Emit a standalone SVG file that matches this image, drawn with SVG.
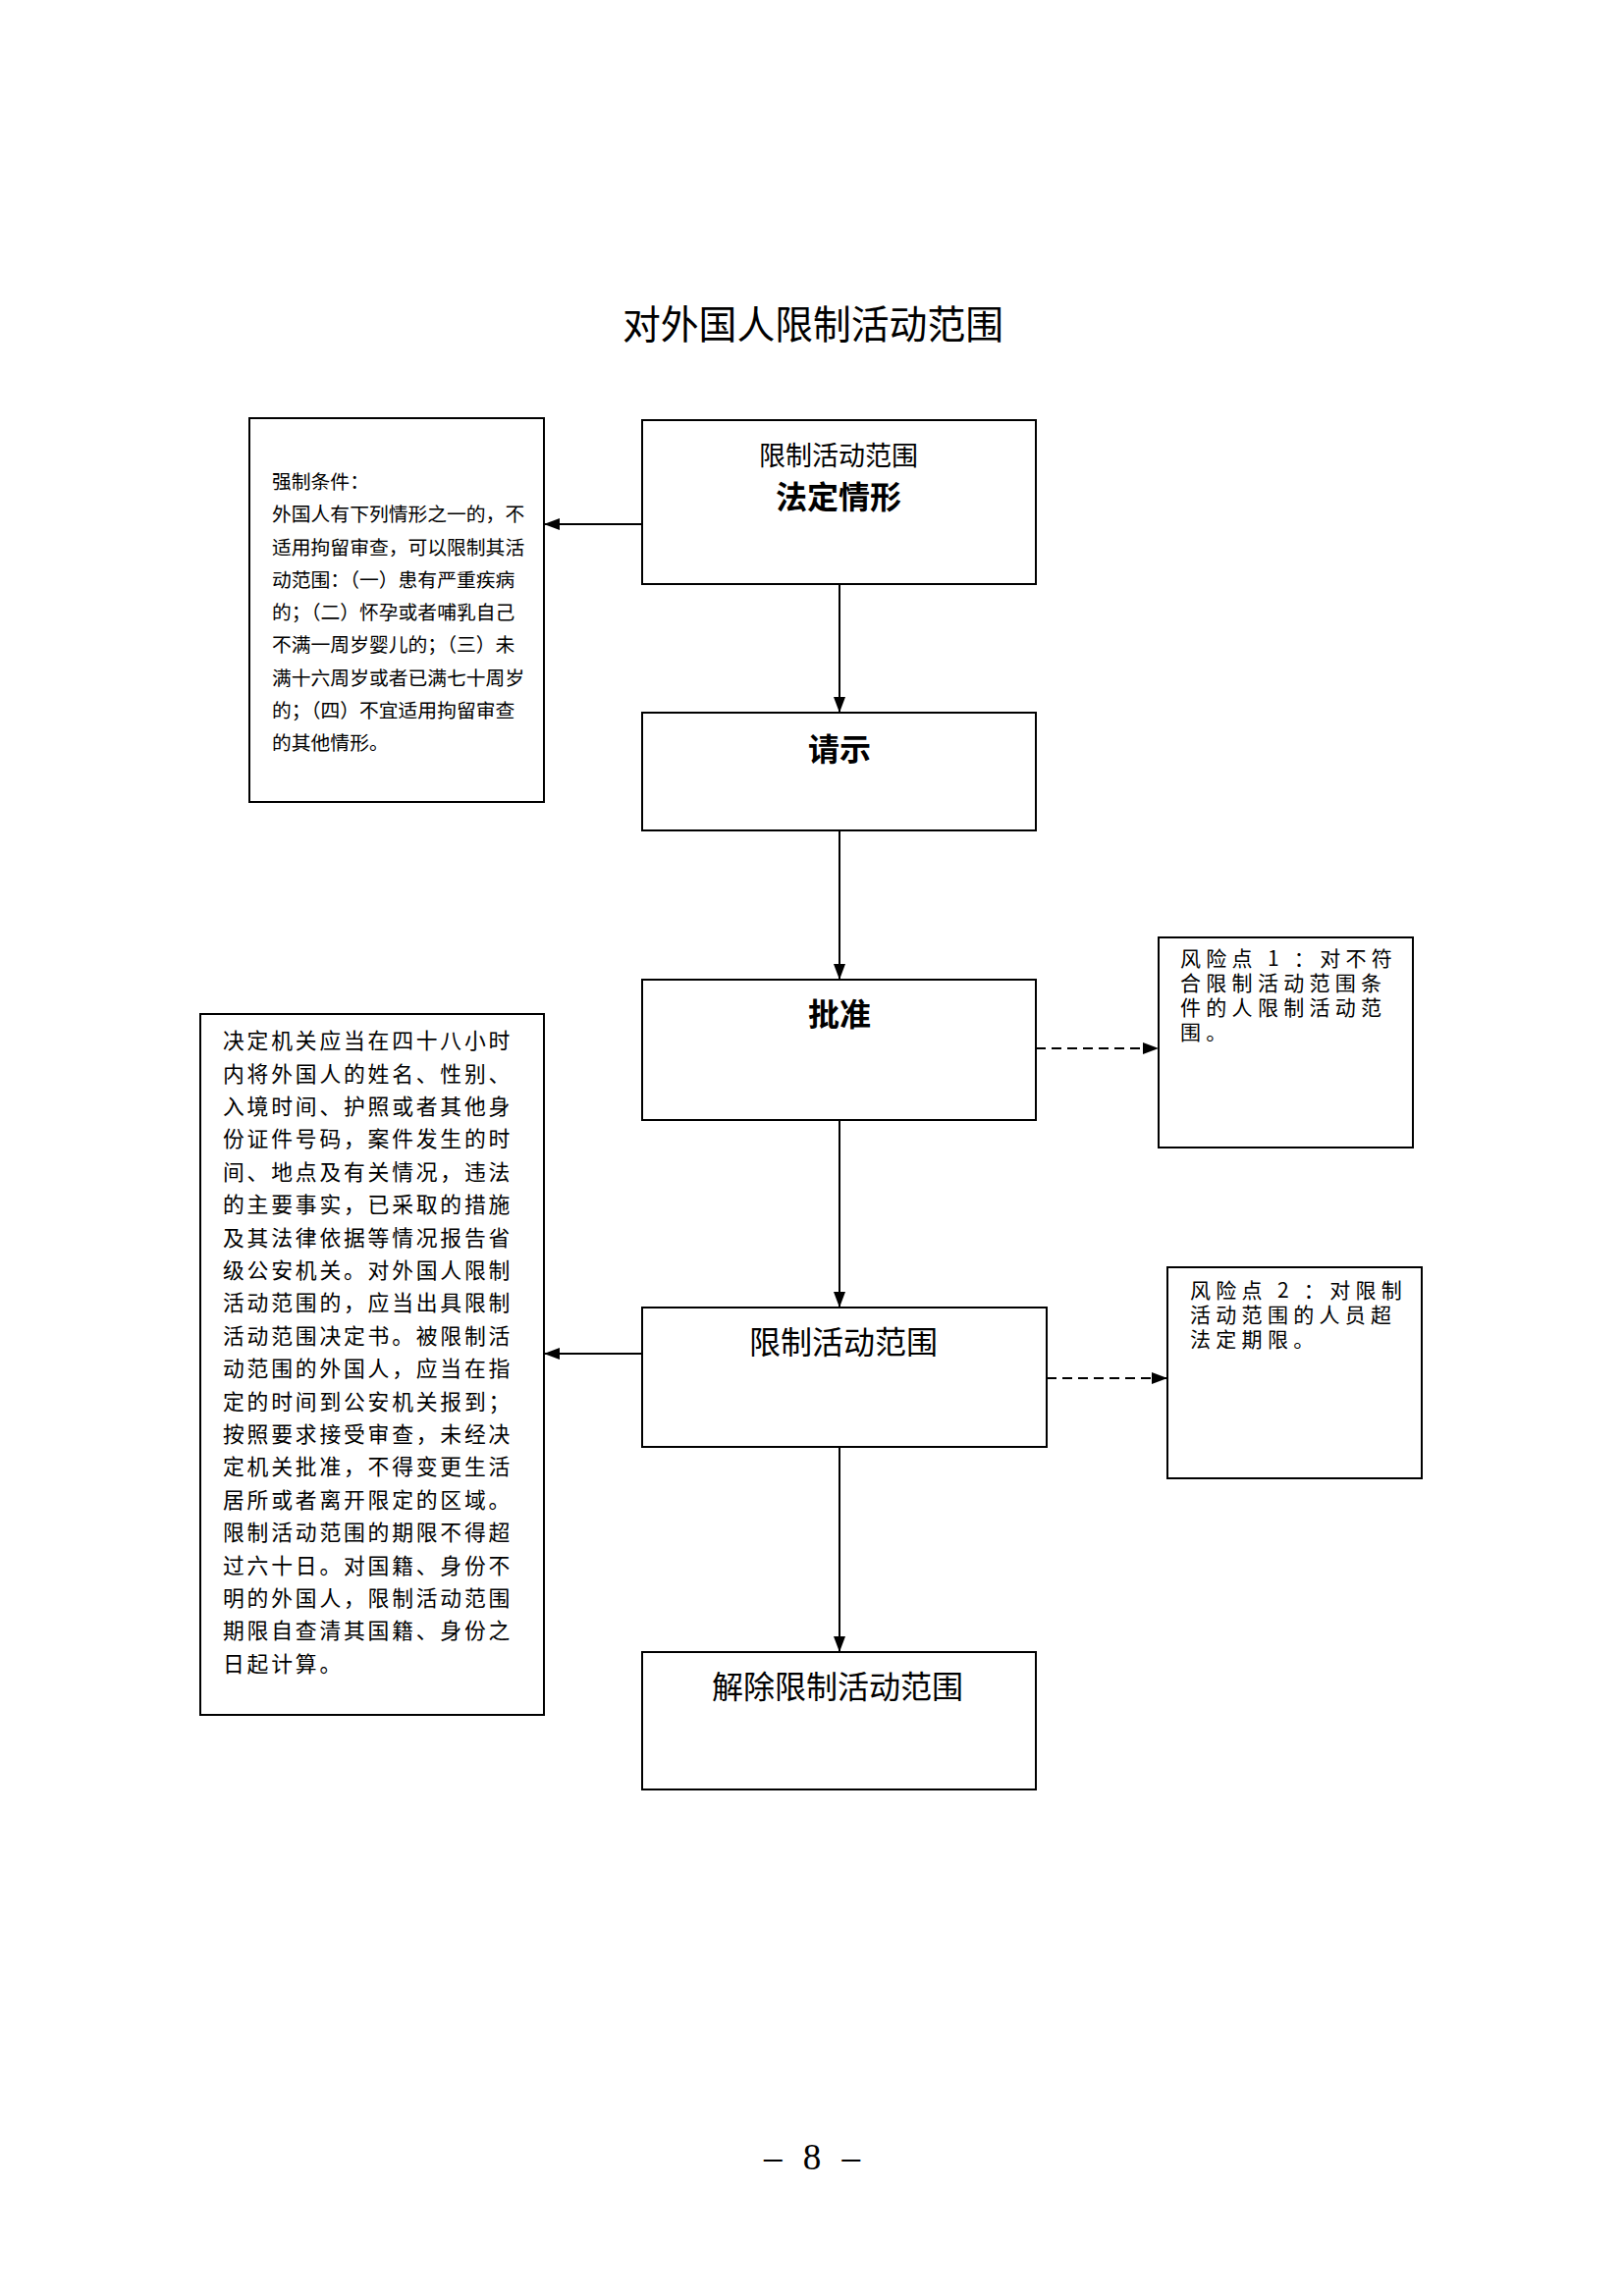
<svg xmlns="http://www.w3.org/2000/svg" width="1654" height="2339" viewBox="0 0 1654 2339">
<style>
.box{fill:#fff;stroke:#000;stroke-width:2}
.ln{stroke:#000;stroke-width:2;fill:none}
.dash{stroke-dasharray:10 6}
.t{font-family:"Noto Sans CJK SC","Noto Sans CJK JP",sans-serif;fill:#000}
.c{text-anchor:middle}
.sm{font-size:19.8px;font-weight:400}
.e{font-size:21.8px;font-weight:400;letter-spacing:2.8px}
.r{font-size:21px;font-weight:400;letter-spacing:5.3px}
.h{font-size:32px}
.b{font-weight:bold}
</style>
<defs>
<marker id="ah" viewBox="0 0 16 12" refX="16" refY="6" markerWidth="16" markerHeight="12" markerUnits="userSpaceOnUse" orient="auto">
<path d="M0,0 L16,6 L0,12 z" fill="#000"/>
</marker>
</defs>
<rect width="1654" height="2339" fill="#fff"/>
<text class="t c" x="828" y="345" font-size="39.5" textLength="388" lengthAdjust="spacingAndGlyphs">对外国人限制活动范围</text>

<g id="connectors">
<line class="ln" x1="654" y1="534" x2="554" y2="534" marker-end="url(#ah)"/>
<line class="ln" x1="855" y1="595" x2="855" y2="726" marker-end="url(#ah)"/>
<line class="ln" x1="855" y1="846" x2="855" y2="998" marker-end="url(#ah)"/>
<line class="ln dash" x1="1055" y1="1068" x2="1180" y2="1068" marker-end="url(#ah)"/>
<line class="ln" x1="855" y1="1141" x2="855" y2="1332" marker-end="url(#ah)"/>
<line class="ln" x1="654" y1="1379" x2="554" y2="1379" marker-end="url(#ah)"/>
<line class="ln dash" x1="1066" y1="1404" x2="1189" y2="1404" marker-end="url(#ah)"/>
<line class="ln" x1="855" y1="1474" x2="855" y2="1683" marker-end="url(#ah)"/>
</g>

<g id="node-conditions">
<rect class="box" x="254" y="426" width="300" height="391"/>
<text class="t sm">
<tspan x="277" y="498">强制条件：</tspan>
<tspan x="277" y="531">外国人有下列情形之一的，不</tspan>
<tspan x="277" y="564.5">适用拘留审查，可以限制其活</tspan>
<tspan x="277" y="597.5">动范围：（一）患有严重疾病</tspan>
<tspan x="277" y="631">的；（二）怀孕或者哺乳自己</tspan>
<tspan x="277" y="664">不满一周岁婴儿的；（三）未</tspan>
<tspan x="277" y="697.5">满十六周岁或者已满七十周岁</tspan>
<tspan x="277" y="730.5">的；（四）不宜适用拘留审查</tspan>
<tspan x="277" y="764">的其他情形。</tspan>
</text>
</g>

<g id="node-legal">
<rect class="box" x="654" y="428" width="401" height="167"/>
<text class="t c" x="854" y="474" font-size="27" font-weight="400">限制活动范围</text>
<text class="t c h b" x="854" y="518">法定情形</text>
</g>

<g id="node-request">
<rect class="box" x="654" y="726" width="401" height="120"/>
<text class="t c h b" x="855" y="775">请示</text>
</g>

<g id="node-approve">
<rect class="box" x="654" y="998" width="401" height="143"/>
<text class="t c h b" x="855" y="1045">批准</text>
</g>

<g id="node-risk1">
<rect class="box" x="1180" y="955" width="259" height="214"/>
<text class="t r">
<tspan x="1202" y="984">风险点 1 ：对不符</tspan>
<tspan x="1202" y="1009">合限制活动范围条</tspan>
<tspan x="1202" y="1034">件的人限制活动范</tspan>
<tspan x="1202" y="1059">围。</tspan>
</text>
</g>

<g id="node-decision">
<rect class="box" x="204" y="1033" width="350" height="714"/>
<text class="t e">
<tspan x="227" y="1068">决定机关应当在四十八小时</tspan>
<tspan x="227" y="1101.5">内将外国人的姓名、性别、</tspan>
<tspan x="227" y="1135">入境时间、护照或者其他身</tspan>
<tspan x="227" y="1168">份证件号码，案件发生的时</tspan>
<tspan x="227" y="1201.5">间、地点及有关情况，违法</tspan>
<tspan x="227" y="1235">的主要事实，已采取的措施</tspan>
<tspan x="227" y="1268.5">及其法律依据等情况报告省</tspan>
<tspan x="227" y="1302">级公安机关。对外国人限制</tspan>
<tspan x="227" y="1335">活动范围的，应当出具限制</tspan>
<tspan x="227" y="1368.5">活动范围决定书。被限制活</tspan>
<tspan x="227" y="1402">动范围的外国人，应当在指</tspan>
<tspan x="227" y="1435.5">定的时间到公安机关报到；</tspan>
<tspan x="227" y="1469">按照要求接受审查，未经决</tspan>
<tspan x="227" y="1502">定机关批准，不得变更生活</tspan>
<tspan x="227" y="1535.5">居所或者离开限定的区域。</tspan>
<tspan x="227" y="1569">限制活动范围的期限不得超</tspan>
<tspan x="227" y="1602.5">过六十日。对国籍、身份不</tspan>
<tspan x="227" y="1636">明的外国人，限制活动范围</tspan>
<tspan x="227" y="1669">期限自查清其国籍、身份之</tspan>
<tspan x="227" y="1702.5">日起计算。</tspan>
</text>
</g>

<g id="node-restrict">
<rect class="box" x="654" y="1332" width="412" height="142"/>
<text class="t c h" x="859" y="1379">限制活动范围</text>
</g>

<g id="node-risk2">
<rect class="box" x="1189" y="1291" width="259" height="215"/>
<text class="t r">
<tspan x="1212" y="1322">风险点 2 ：对限制</tspan>
<tspan x="1212" y="1347">活动范围的人员超</tspan>
<tspan x="1212" y="1372">法定期限。</tspan>
</text>
</g>

<g id="node-release">
<rect class="box" x="654" y="1683" width="401" height="140"/>
<text class="t c h" x="853" y="1730">解除限制活动范围</text>
</g>

<text x="827" y="2210" font-family="Liberation Serif,serif" font-size="37" text-anchor="middle" word-spacing="12">– 8 –</text>
</svg>
